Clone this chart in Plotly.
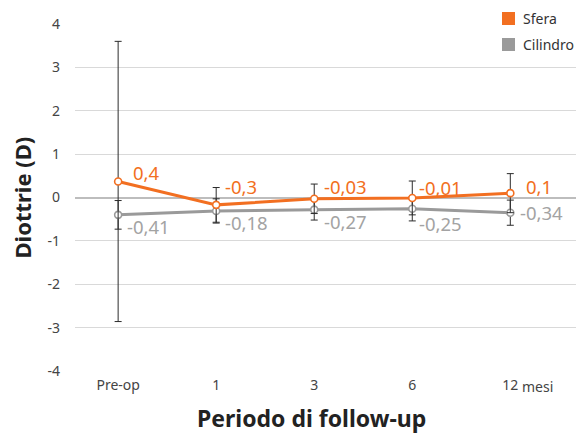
import plotly.graph_objects as go

categories = ["Pre-op", "1", "3", "6", "12"]
tick_labels = ["Pre-op", "1", "3", "6", "12"]
unit_suffix = "mesi"
y_ticks = [-4, -3, -2, -1, 0, 1, 2, 3, 4]
y_tick_labels = ["-4", "-3", "-2", "-1", "0", "1", "2", "3", "4"]

sfera_values = [0.37, -0.17, -0.03, -0.01, 0.10]
sfera_errors = [3.23, 0.40, 0.34, 0.39, 0.45]
sfera_labels = ["0,4", "-0,3", "-0,03", "-0,01", "0,1"]

cil_values = [-0.40, -0.31, -0.28, -0.26, -0.35]
cil_errors = [0.33, 0.28, 0.24, 0.28, 0.29]
cil_labels = ["-0,41", "-0,18", "-0,27", "-0,25", "-0,34"]

series_names = ["Sfera", "Cilindro"]

ORANGE = "#F26F21"
GRAY = "#9A9A9A"
GRAY_TXT = "#A3A3A3"
FONT = "Noto Sans"

# label offsets (pixels)
sfera_dx = [13, 7, 8, 5, 14]
sfera_dy = [9, 18, 12, 10, 7]
cil_dx = [7, 7, 8, 5, 8]
cil_dy = [-12, -12, -12, -15, 0]

xi = list(range(len(categories)))

fig = go.Figure()

for vals, errs, col in [(cil_values, cil_errors, GRAY), (sfera_values, sfera_errors, ORANGE)]:
    fig.add_trace(go.Scatter(
        x=xi, y=vals, mode="lines+markers",
        line=dict(color=col, width=3),
        marker=dict(size=7, color="white", line=dict(color=col, width=1.6)),
        error_y=dict(type="data", array=errs, visible=True, color="#2b2b2b", thickness=1, width=3.5),
        showlegend=False, hoverinfo="skip",
    ))

annotations = []
for i in xi:
    annotations.append(dict(x=i, y=sfera_values[i], xref="x", yref="y", text=sfera_labels[i],
                            showarrow=False, xanchor="left", yanchor="middle",
                            xshift=sfera_dx[i], yshift=sfera_dy[i],
                            font=dict(family=FONT, size=18.5, color=ORANGE)))
    annotations.append(dict(x=i, y=cil_values[i], xref="x", yref="y", text=cil_labels[i],
                            showarrow=False, xanchor="left", yanchor="middle",
                            xshift=cil_dx[i], yshift=cil_dy[i],
                            font=dict(family=FONT, size=18.5, color=GRAY_TXT)))

# "mesi" after the last tick label
annotations.append(dict(x=xi[-1], y=0, xref="x", yref="paper", text=unit_suffix, showarrow=False,
                        xanchor="left", yanchor="middle", xshift=10, yshift=-15,
                        font=dict(family=FONT, size=14, color="#444444")))

# axis titles
annotations.append(dict(x=0.473, y=0, xref="paper", yref="paper", text="<b>Periodo di follow-up</b>",
                        showarrow=False, xanchor="center", yanchor="middle", yshift=-47,
                        font=dict(family=FONT, size=23, color="#222222")))
annotations.append(dict(x=0, y=0.5, xref="paper", yref="paper", text="<b>Diottrie (D)</b>",
                        showarrow=False, xanchor="center", yanchor="middle", xshift=-54, textangle=-90,
                        font=dict(family=FONT, size=22, color="#222222")))

# legend (manual)
PLOT_H = 347.0
PLOT_W = 501.0
def px_x(x):
    return (x - 75) / PLOT_W
def px_y(y):
    return (371 - y) / PLOT_H

shapes = [
    dict(type="rect", xref="paper", yref="paper", x0=px_x(485), x1=px_x(576), y0=px_y(58), y1=px_y(4),
         fillcolor="white", line=dict(width=0), layer="above"),
]
legend_colors = [ORANGE, GRAY]
legend_tops = [12, 38]
for name, col, top in zip(series_names, legend_colors, legend_tops):
    shapes.append(dict(type="rect", xref="paper", yref="paper", x0=px_x(502), x1=px_x(515),
                       y0=px_y(top + 13), y1=px_y(top), fillcolor=col, line=dict(width=0), layer="above"))
    annotations.append(dict(x=px_x(521), y=px_y(top + 6.5), xref="paper", yref="paper", text=name,
                            showarrow=False, xanchor="left", yanchor="middle",
                            font=dict(family=FONT, size=14, color="#333333")))

fig.update_layout(
    width=576, height=433,
    margin=dict(l=75, r=0, t=24, b=62),
    paper_bgcolor="white", plot_bgcolor="white",
    font=dict(family=FONT, size=14, color="#444444"),
    xaxis=dict(range=[-0.44, 4.67], tickmode="array", tickvals=xi, ticktext=tick_labels,
               showgrid=False, zeroline=False, showline=False, ticks="", ticklabelstandoff=4,
               tickfont=dict(family=FONT, size=14, color="#444444")),
    yaxis=dict(range=[-4, 4], tickmode="array", tickvals=y_ticks, ticktext=y_tick_labels,
               showgrid=True, gridcolor="#D9D9D9", gridwidth=1,
               zeroline=True, zerolinecolor="#BDBDBD", zerolinewidth=2, showline=False,
               ticks="", ticklabelstandoff=14, tickfont=dict(family=FONT, size=14, color="#444444")),
    annotations=annotations,
    shapes=shapes,
    showlegend=False,
)

fig.write_html("out.html", config={"displayModeBar": False, "staticPlot": True},
               post_script="document.body.style.margin='0';document.body.style.overflow='hidden';")
